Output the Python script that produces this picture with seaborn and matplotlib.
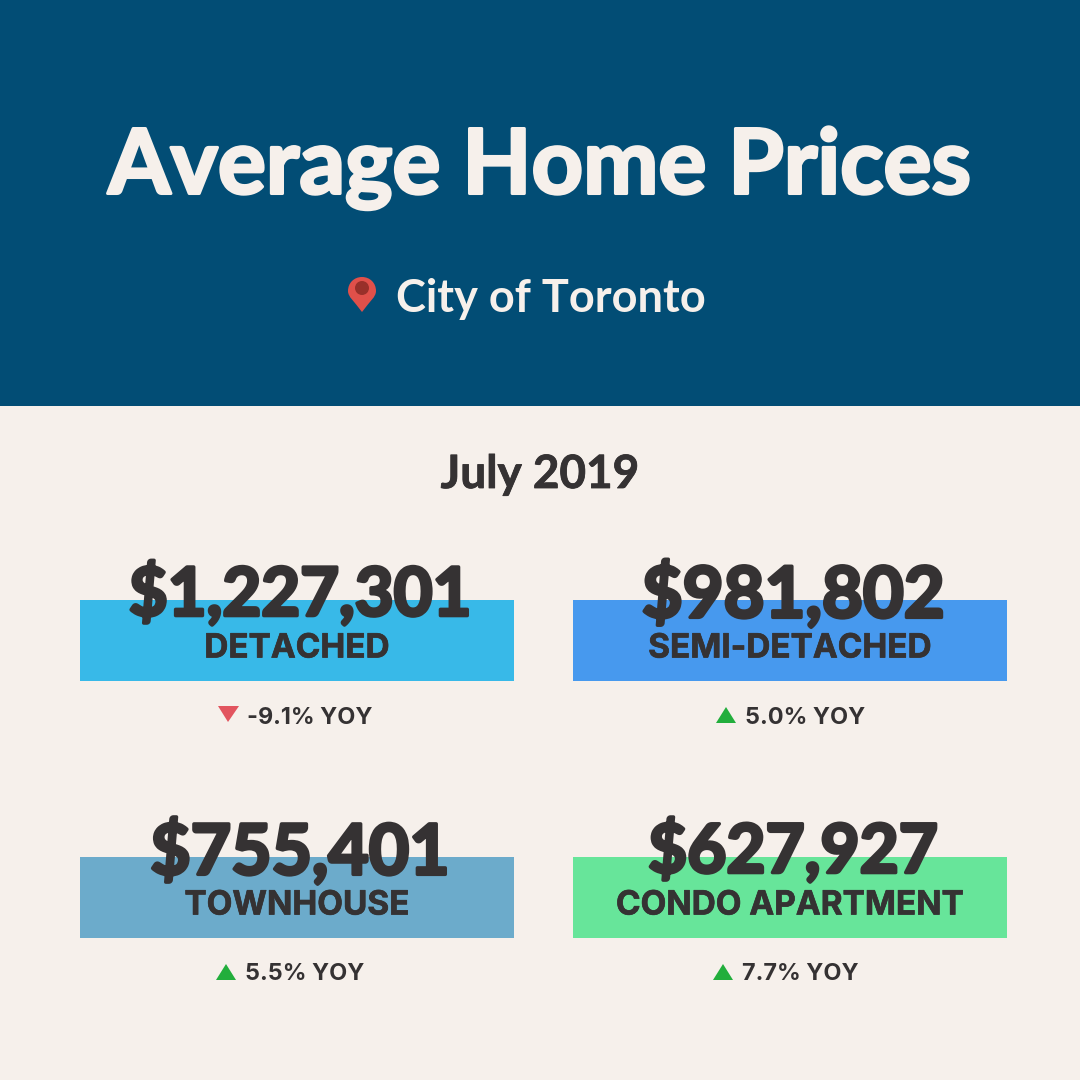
import matplotlib
matplotlib.use("Agg")
import matplotlib.pyplot as plt
import matplotlib.patheffects as pe
from matplotlib.patches import Circle, PathPatch, Rectangle
from matplotlib.path import Path
import seaborn as sns

# chart values
title = "Average Home Prices"
place = "City of Toronto"
period = "July 2019"
categories = ["DETACHED", "SEMI-DETACHED", "TOWNHOUSE", "CONDO APARTMENT"]
prices = ["$1,227,301", "$981,802", "$755,401", "$627,927"]
yoy = [-9.1, 5.0, 5.5, 7.7]
bar_colors = ["#38B9E8", "#4799EE", "#6CABCB", "#67E59A"]

navy = "#024D75"
cream = "#F6F0EB"
ink = "#353233"
red = "#E2555F"
green = "#22AE3C"

sns.set_theme(style="white")
plt.rcParams["font.family"] = ["Lato", "DejaVu Sans"]

fig = plt.figure(figsize=(10.8, 10.8), dpi=100, facecolor=cream)

# layout in pixels: left edge of each column, top edge of each row
lefts = [80, 573]
tops = [600, 857]
bw, bh = 434, 81
price_sizes = [48.3, 50.8, 50.2, 48.6]
price_shift = [3, 3, 3, 3]
yoy_left = [247, 745, 245, 742]


def thick(w, color):
    return [pe.withStroke(linewidth=w, foreground=color)]


for i, cat in enumerate(categories):
    x0 = lefts[i % 2]
    y0 = tops[i // 2]
    ax = fig.add_axes([x0 / 1080, 1 - (y0 + bh) / 1080, bw / 1080, bh / 1080])
    sns.barplot(x=[cat], y=[1], color=bar_colors[i], width=1, saturation=1,
                linewidth=0, ax=ax)
    ax.set_ylim(0, 1)
    ax.set_xlim(-0.5, 0.5)
    ax.axis("off")

# overlay in pixel coordinates for header and text
ov = fig.add_axes([0, 0, 1, 1], zorder=5)
ov.set_xlim(0, 1080)
ov.set_ylim(1080, 0)
ov.axis("off")
ov.patch.set_alpha(0)

ov.add_patch(Rectangle((0, 0), 1080, 406, color=navy, lw=0))
ov.text(540, 160, title, color=cream, fontsize=64.7, fontweight="bold",
        ha="center", va="center_baseline", path_effects=thick(2.2, cream))
ov.text(551, 295, place, color=cream, fontsize=32.5, fontweight="bold",
        ha="center", va="center_baseline")
ov.text(540, 471, period, color=ink, fontsize=33, fontweight="bold",
        ha="center", va="center_baseline", path_effects=thick(0.6, ink))

# map pin
pin = Path(
    [(362, 312), (354, 301), (348, 297), (348, 291), (348, 283), (354, 277), (362, 277),
     (370, 277), (376, 283), (376, 291), (376, 297), (370, 301), (362, 312)],
    [Path.MOVETO] + [Path.CURVE4] * 12,
)
ov.add_patch(PathPatch(pin, facecolor="#E0504A", lw=0))
ov.add_patch(Circle((362, 288), 7, facecolor="#98302A", lw=0))

# cards
for i, cat in enumerate(categories):
    x0 = lefts[i % 2]
    y0 = tops[i // 2]
    cx = x0 + bw / 2
    ov.text(cx + price_shift[i], y0 - 11, prices[i], color=ink, fontsize=price_sizes[i],
            fontweight="bold", ha="center", va="center_baseline", path_effects=thick(2.5, ink))
    ov.text(cx, y0 + 45, cat, color=ink, fontsize=24, fontweight="bold", family="Inter",
            ha="center", va="center_baseline", path_effects=thick(0.5, ink))
    up = yoy[i] > 0
    xl = yoy_left[i]
    ov.text(xl, y0 + 115, f"{yoy[i]:.1f}% YOY", color=ink, fontsize=16.8, fontweight="bold",
            family="Inter", ha="left", va="center_baseline")
    if up:
        ov.fill([xl - 29, xl - 19, xl - 9], [y0 + 123, y0 + 107, y0 + 123], color=green, lw=0)
    else:
        ov.fill([xl - 29, xl - 19, xl - 8], [y0 + 106, y0 + 122, y0 + 106], color=red, lw=0)

fig.savefig("out.png", dpi=100, facecolor=cream)
